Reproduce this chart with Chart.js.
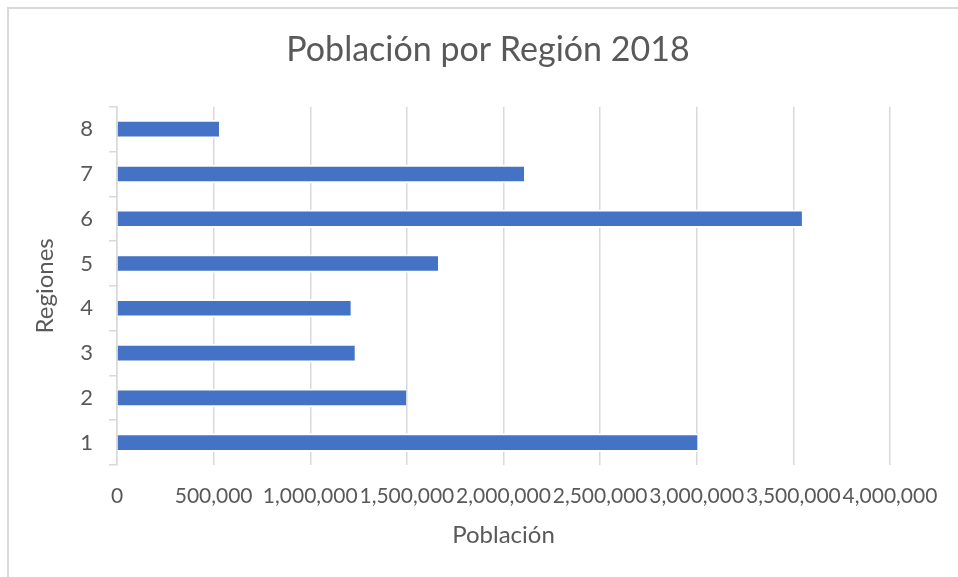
<!DOCTYPE html>
<html>
<head>
<meta charset="utf-8">
<script src="https://cdn.jsdelivr.net/npm/chart.js@4.4.0/dist/chart.umd.min.js"></script>
<style>
  html, body { margin: 0; padding: 0; background: #fff; }
  #wrap { position: relative; width: 958px; height: 577px; }
  #frame { position: absolute; left: 7px; top: 7px; right: 0; bottom: 0;
           border-left: 2px solid #d9d9d9; border-top: 2px solid #d9d9d9; }
  canvas { position: absolute; left: 0; top: 0; }
</style>
</head>
<body>
<div id="wrap">
  <div id="frame"></div>
  <canvas id="regionChart" width="958" height="577"></canvas>
</div>
<script>
// categories (regions) and population values
const regiones = ['1', '2', '3', '4', '5', '6', '7', '8'];
const poblacion = [3003000, 1496000, 1230000, 1209000, 1661000, 3544000, 2106000, 528000];

// x axis range
const xMin = 0;
const xMax = 4000000;
const xStep = 500000;

const grey = '#595959';
const gridGrey = '#d9d9d9';
const fontFam = 'Lato, "Open Sans", sans-serif';

const ctx = document.getElementById('regionChart');

new Chart(ctx, {
  type: 'bar',
  data: {
    labels: regiones,
    datasets: [{
      label: 'Población',
      data: poblacion,
      backgroundColor: '#4472c4',
      borderColor: '#ffffff',
      // white edge above/below the bar breaks the gridlines like the original
      borderWidth: { top: 2, bottom: 2, left: 0, right: 0 },
      borderSkipped: false,
      barThickness: 18
    }]
  },
  options: {
    responsive: false,
    animation: false,
    indexAxis: 'y',
    layout: {
      padding: { left: 18, right: 0, top: 0, bottom: 0 }
    },
    plugins: {
      legend: { display: false },
      tooltip: { enabled: false },
      title: {
        display: true,
        text: 'Población por Región 2018',
        color: grey,
        font: { family: fontFam, size: 34, weight: 'normal' },
        padding: { top: 30, bottom: 36 }
      }
    },
    scales: {
      x: {
        min: xMin,
        max: xMax,
        grid: { color: gridGrey, lineWidth: 1.5, drawTicks: false },
        border: { display: false },
        ticks: {
          stepSize: xStep,
          autoSkip: false,
          maxRotation: 0,
          minRotation: 0,
          padding: 19,
          color: grey,
          font: { family: fontFam, size: 21 },
          callback: (v) => v.toLocaleString('en-US')
        },
        title: {
          display: true,
          text: 'Población',
          color: grey,
          font: { family: fontFam, size: 24 },
          padding: { top: 0, bottom: 27 }
        },
        afterFit: (scale) => {
          scale.height = 112;
          scale.paddingRight = 68;
        }
      },
      y: {
        reverse: true,
        offset: true,
        grid: {
          offset: true,
          drawOnChartArea: false,
          drawTicks: true,
          tickLength: 8,
          color: gridGrey,
          lineWidth: 1.5
        },
        border: { display: true, color: gridGrey, width: 1.5 },
        ticks: {
          padding: 16,
          color: grey,
          font: { family: fontFam, size: 22 }
        },
        title: {
          display: true,
          text: 'Regiones',
          color: grey,
          font: { family: fontFam, size: 24 },
          padding: { top: 13, bottom: 0 }
        },
        afterFit: (scale) => { scale.width = 99; }
      }
    }
  }
});
</script>
</body>
</html>
